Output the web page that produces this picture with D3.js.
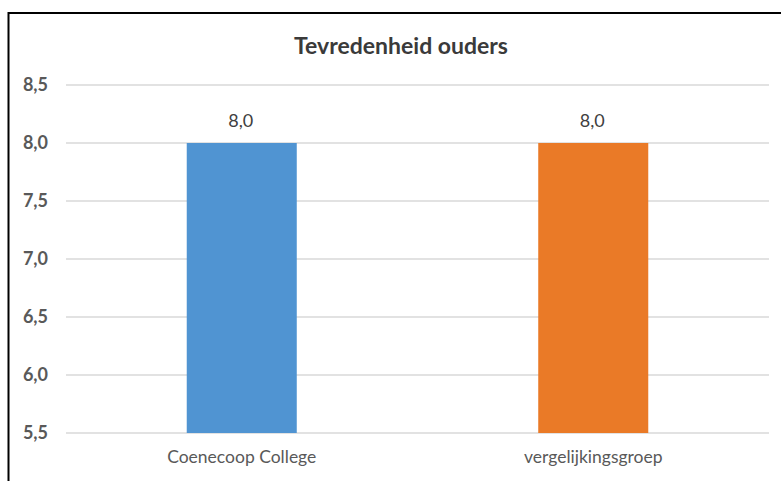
<!DOCTYPE html>
<html><head><meta charset="utf-8">
<script src="https://cdn.jsdelivr.net/npm/d3@7"></script>
<style>body{margin:0;background:#fff}svg{display:block}</style>
</head><body>
<svg id="c" width="781" height="481"></svg>
<script>
const title = "Tevredenheid ouders";
const categories = ["Coenecoop College", "vergelijkingsgroep"];
const values = [8.0, 8.0];
const barColors = ["#5094d2", "#ea7a27"];
const yTicks = [5.5, 6.0, 6.5, 7.0, 7.5, 8.0, 8.5];
const yDomain = [5.5, 8.5];

const svg = d3.select("#c");
const fmt = v => d3.format(".1f")(v).replace(".", ",");
const font = "Lato, 'Open Sans', sans-serif";

// border (cut off at right and bottom)
svg.append("path").attr("d", "M8.5,481 V13 H781").attr("fill", "none")
  .attr("stroke", "#000").attr("stroke-width", 2);

const x = d3.scaleBand().domain(categories).range([66, 769])
  .paddingInner(0.687).paddingOuter(0.3435);
const y = d3.scaleLinear().domain(yDomain).range([433, 85]);

// gridlines
svg.append("g").selectAll("line").data(yTicks).join("line")
  .attr("x1", 66).attr("x2", 769)
  .attr("y1", d => y(d)).attr("y2", d => y(d))
  .attr("stroke", "#d9d9d9").attr("stroke-width", 1.5);

// y axis labels
const yAxis = d3.axisLeft(y).tickValues(yTicks).tickFormat(fmt).tickSize(0).tickPadding(0);
const ya = svg.append("g").attr("transform", "translate(48,0)").call(yAxis);
ya.select(".domain").remove();
ya.selectAll("text").attr("font-family", font).attr("font-size", 18)
  .attr("font-weight", "bold").attr("fill", "#595959");

// bars
svg.append("g").selectAll("rect").data(categories).join("rect")
  .attr("x", d => x(d)).attr("width", x.bandwidth())
  .attr("y", (d, i) => y(values[i])).attr("height", (d, i) => y(yDomain[0]) - y(values[i]))
  .attr("fill", (d, i) => barColors[i]);

// value labels
svg.append("g").selectAll("text").data(categories).join("text")
  .attr("x", d => x(d) + x.bandwidth() / 2 - 1)
  .attr("y", (d, i) => y(values[i]) - 16)
  .attr("text-anchor", "middle").attr("font-family", font).attr("font-size", 18)
  .attr("fill", "#404040").text((d, i) => fmt(values[i]));

// x axis labels
const xAxis = d3.axisBottom(x).tickSize(0).tickPadding(0);
const xa = svg.append("g").attr("transform", "translate(0,451)").call(xAxis);
xa.select(".domain").remove();
xa.selectAll("text").attr("font-family", font).attr("font-size", 17.5).attr("fill", "#595959");

// title
svg.append("text").attr("x", 401).attr("y", 54).attr("text-anchor", "middle")
  .attr("font-family", font).attr("font-size", 23).attr("font-weight", "bold")
  .attr("fill", "#3a3a3a").text(title);
</script>
</body></html>
